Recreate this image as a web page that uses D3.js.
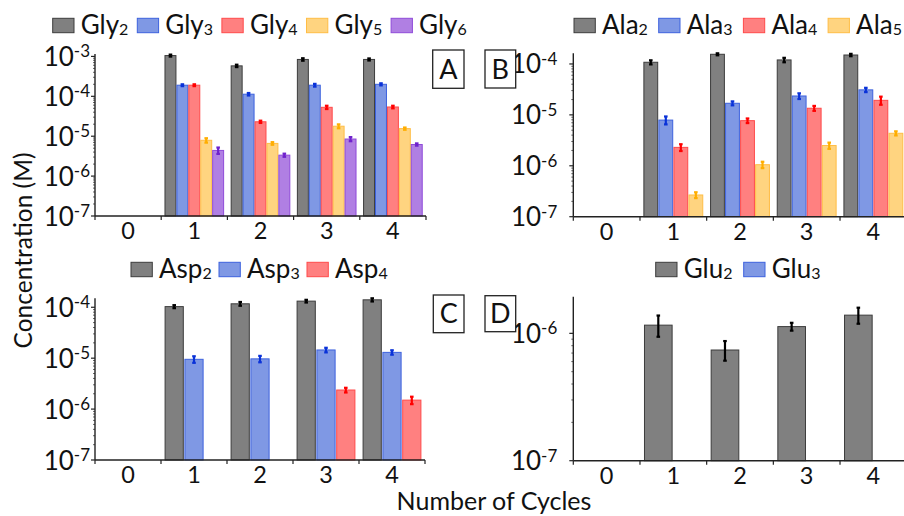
<!DOCTYPE html>
<html>
<head>
<meta charset="utf-8">
<script src="https://cdn.jsdelivr.net/npm/d3@7"></script>
<style>
  body { margin: 0; background: #fff; }
  svg { display: block; }
  text { font-family: Lato, "Open Sans", sans-serif; fill: #111; }
</style>
</head>
<body>
<svg id="chart" width="904" height="516"></svg>
<script>
// Number of cycles on the x axis
const cycles = ["0", "1", "2", "3", "4"];

// Panel A: glycine oligomers (M), with error bars
const glyNames = ["Gly2", "Gly3", "Gly4", "Gly5", "Gly6"];
const gly2 = [0, 1.05e-3, 5.8e-4, 8.4e-4, 8.4e-4];
const gly3 = [0, 1.9e-4, 1.13e-4, 1.9e-4, 2.0e-4];
const gly4 = [0, 1.9e-4, 2.3e-5, 5.3e-5, 5.4e-5];
const gly5 = [0, 7.9e-6, 6.6e-6, 1.78e-5, 1.55e-5];
const gly6 = [0, 4.4e-6, 3.35e-6, 8.5e-6, 6.2e-6];
const gly2Err = [0, 6e-5, 4e-5, 6e-5, 5e-5];
const gly3Err = [0, 1e-5, 8e-6, 1.5e-5, 1.2e-5];
const gly4Err = [0, 1e-5, 1.5e-6, 5e-6, 4e-6];
const gly5Err = [0, 1.0e-6, 5e-7, 2.0e-6, 1.0e-6];
const gly6Err = [0, 8e-7, 3e-7, 1.0e-6, 4e-7];

// Panel B: alanine oligomers
const alaNames = ["Ala2", "Ala3", "Ala4", "Ala5"];
const ala2 = [0, 1.08e-4, 1.55e-4, 1.2e-4, 1.5e-4];
const ala3 = [0, 7.9e-6, 1.69e-5, 2.35e-5, 3.1e-5];
const ala4 = [0, 2.3e-6, 7.7e-6, 1.35e-5, 1.93e-5];
const ala5 = [0, 2.67e-7, 1.05e-6, 2.5e-6, 4.35e-6];
const ala2Err = [0, 1e-5, 7e-6, 1.2e-5, 8e-6];
const ala3Err = [0, 1.4e-6, 1.5e-6, 3e-6, 3e-6];
const ala4Err = [0, 3.5e-7, 8e-7, 1.5e-6, 3.5e-6];
const ala5Err = [0, 3.5e-8, 1.5e-7, 3.5e-7, 4e-7];

// Panel C: aspartic acid oligomers
const aspNames = ["Asp2", "Asp3", "Asp4"];
const asp2 = [0, 1.03e-4, 1.17e-4, 1.32e-4, 1.4e-4];
const asp3 = [0, 9.5e-6, 9.7e-6, 1.45e-5, 1.3e-5];
const asp4 = [0, 0, 0, 2.37e-6, 1.5e-6];
const asp2Err = [0, 7e-6, 1e-5, 8e-6, 1e-5];
const asp3Err = [0, 1.4e-6, 1.4e-6, 1.5e-6, 1.3e-6];
const asp4Err = [0, 0, 0, 2.5e-7, 2.5e-7];

// Panel D: glutamic acid oligomers
const gluNames = ["Glu2", "Glu3"];
const glu2 = [0, 1.16e-6, 7.4e-7, 1.13e-6, 1.39e-6];
const glu3 = [0, 0, 0, 0, 0];
const glu2Err = [0, 2.2e-7, 1.3e-7, 8e-8, 2e-7];
const glu3Err = [0, 0, 0, 0, 0];

// Fill / outline / error-bar colours by oligomer length (dimer .. hexamer)
const fills   = ["#808080", "#7f98e4", "#ff8080", "#ffd480", "#b07fe3"];
const strokes = ["#3c3c3c", "#3d62de", "#ff4a4a", "#ffbd45", "#8f4ad9"];
const errCols = ["#000000", "#0a32d8", "#ff0000", "#ffae00", "#6f22cc"];

const panels = [
  { label: "A", names: glyNames, values: [gly2, gly3, gly4, gly5, gly6],
    errors: [gly2Err, gly3Err, gly4Err, gly5Err, gly6Err],
    left: 95, right: 426, bottom: 216, top: 54, yMax: 1.15e-3, tickGap: 5,
    legendX: 52.7, legendY: 18.3, legendStep: 84.6, box: [432.7, 50, 31.3, 38.3] },
  { label: "B", names: alaNames, values: [ala2, ala3, ala4, ala5],
    errors: [ala2Err, ala3Err, ala4Err, ala5Err],
    left: 573.3, right: 906.7, bottom: 216.7, top: 53.3, yMax: 1.62e-4, tickGap: 16,
    legendX: 574, legendY: 18.3, legendStep: 84.7, box: [485, 50, 30.7, 38] },
  { label: "C", names: aspNames, values: [asp2, asp3, asp4],
    errors: [asp2Err, asp3Err, asp4Err],
    left: 95, right: 425, bottom: 460, top: 298.3, yMax: 1.5e-4, tickGap: 5,
    legendX: 131, legendY: 262.3, legendStep: 88, box: [433.3, 295, 30.7, 37.7] },
  { label: "D", names: gluNames, values: [glu2, glu3],
    errors: [glu2Err, glu3Err],
    left: 573.3, right: 906.7, bottom: 460.7, top: 296.7, yMax: 1.94e-6, tickGap: 16,
    legendX: 655.7, legendY: 262.3, legendStep: 88, box: [485, 295.7, 30.7, 36] }
];

const svg = d3.select("#chart");
const axisColor = "#222";

// Writes a name such as "Gly2" as "Gly" with a subscript "2"
function subscriptLabel(sel, name, size, subSize) {
  const m = name.match(/^(\D+)(\d+)$/);
  sel.append("tspan").attr("font-size", size).text(m[1]);
  sel.append("tspan").attr("font-size", subSize).attr("dy", 1).text(m[2]);
}

panels.forEach(p => {
  const g = svg.append("g");
  const x = d3.scaleBand().domain(cycles).range([p.left, p.right]).padding(0);
  const y = d3.scaleLog().domain([1e-7, p.yMax]).range([p.bottom, p.top]);
  const inner = d3.scaleBand()
    .domain(d3.range(p.names.length))
    .range([3.3, x.bandwidth() - 3.3])
    .paddingInner(0.08).paddingOuter(0.04);

  // bars
  p.values.forEach((vals, si) => {
    const rows = cycles.map((c, i) => ({ c, v: vals[i], e: p.errors[si][i] })).filter(d => d.v > 0);
    g.append("g").selectAll("rect").data(rows).join("rect")
      .attr("x", d => x(d.c) + inner(si))
      .attr("y", d => y(d.v))
      .attr("width", inner.bandwidth())
      .attr("height", d => p.bottom - y(d.v))
      .attr("fill", fills[si])
      .attr("stroke", strokes[si])
      .attr("stroke-width", 1);

    // error bars
    const eg = g.append("g").attr("stroke", errCols[si]).attr("stroke-width", 2.2);
    rows.forEach(d => {
      const cx = x(d.c) + inner(si) + inner.bandwidth() / 2;
      const y1 = y(d.v + d.e), y0 = y(Math.max(d.v - d.e, 1.01e-7));
      eg.append("line").attr("x1", cx).attr("x2", cx).attr("y1", y0).attr("y2", y1);
      eg.append("line").attr("x1", cx - 1.8).attr("x2", cx + 1.8).attr("y1", y1).attr("y2", y1);
      eg.append("line").attr("x1", cx - 1.8).attr("x2", cx + 1.8).attr("y1", y0).attr("y2", y0);
    });
  });

  // y axis: line, major and minor log ticks
  const ya = g.append("g");
  ya.append("line").attr("x1", p.left).attr("x2", p.left)
    .attr("y1", p.top).attr("y2", p.bottom)
    .attr("stroke", axisColor).attr("stroke-width", 1.4);
  const ticks = y.ticks(20).filter(t => t <= p.yMax * 1.0001);
  ticks.forEach(t => {
    const k = Math.log10(t);
    const major = Math.abs(k - Math.round(k)) < 1e-9;
    ya.append("line").attr("x1", p.left - (major ? 4 : 2)).attr("x2", p.left)
      .attr("y1", y(t)).attr("y2", y(t))
      .attr("stroke", axisColor).attr("stroke-width", major ? 1.2 : 0.7);
    if (major) {
      const tx = ya.append("text").attr("x", p.left - p.tickGap).attr("y", y(t) + 9.5)
        .attr("text-anchor", "end");
      tx.append("tspan").attr("font-size", 26).text("10");
      tx.append("tspan").attr("font-size", 17).attr("dy", -8.5).text(String(Math.round(k)));
    }
  });

  // x axis: line, boundary ticks and cycle labels
  const xa = g.append("g");
  xa.append("line").attr("x1", p.left).attr("x2", p.right)
    .attr("y1", p.bottom).attr("y2", p.bottom)
    .attr("stroke", axisColor).attr("stroke-width", 1.4);
  d3.range(cycles.length + 1).forEach(i => {
    const tx = p.left + i * x.step();
    xa.append("line").attr("x1", tx).attr("x2", tx)
      .attr("y1", p.bottom).attr("y2", p.bottom + 4)
      .attr("stroke", axisColor).attr("stroke-width", 1.2);
  });
  xa.selectAll("text.cyc").data(cycles).join("text")
    .attr("class", "cyc")
    .attr("x", d => x(d) + x.bandwidth() / 2)
    .attr("y", p.bottom + 23)
    .attr("text-anchor", "middle")
    .attr("font-size", 23.5)
    .text(d => d);

  // legend
  p.names.forEach((name, si) => {
    const lx = p.legendX + si * p.legendStep;
    g.append("rect").attr("x", lx).attr("y", p.legendY)
      .attr("width", 21.3).attr("height", 14.4)
      .attr("fill", fills[si]).attr("stroke", strokes[si]).attr("stroke-width", 1);
    const t = g.append("text").attr("x", lx + 28).attr("y", p.legendY + 15.5);
    subscriptLabel(t, name, 26, 16);
  });

  // panel letter in a box
  const [bx, by, bw, bh] = p.box;
  g.append("rect").attr("x", bx).attr("y", by).attr("width", bw).attr("height", bh)
    .attr("fill", "#fff").attr("stroke", axisColor).attr("stroke-width", 1.3);
  g.append("text").attr("x", bx + bw / 2).attr("y", by + bh / 2 + 9.5)
    .attr("text-anchor", "middle").attr("font-size", 27).text(p.label);
});

// shared axis titles
svg.append("text")
  .attr("transform", "translate(32,250.5) rotate(-90)")
  .attr("text-anchor", "middle").attr("font-size", 24.5)
  .text("Concentration (M)");
svg.append("text")
  .attr("x", 494).attr("y", 509.5)
  .attr("text-anchor", "middle").attr("font-size", 25)
  .text("Number of Cycles");
</script>
</body>
</html>
